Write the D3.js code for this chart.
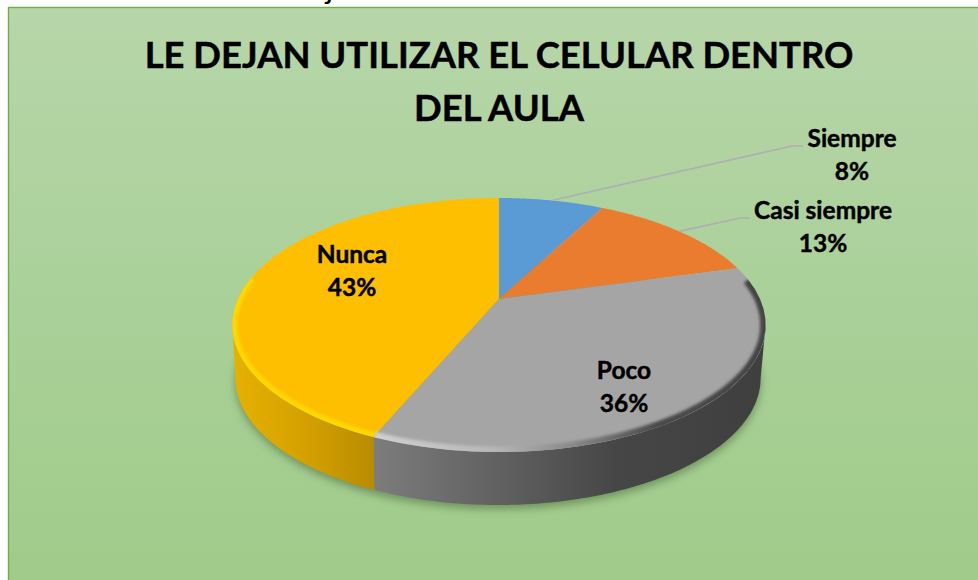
<!DOCTYPE html>
<html><head><meta charset="utf-8">
<script src="https://cdn.jsdelivr.net/npm/d3@7"></script>
<style>html,body{margin:0;padding:0;background:#fff}svg{display:block}text{font-family:Lato,"Open Sans",sans-serif;font-weight:700;fill:#000;stroke:#000;stroke-width:.45px}text.cap{stroke:none;font-weight:400}</style>
</head><body><svg id="c" width="978" height="580"></svg>
<script>
const categories = ["Siempre","Casi siempre","Poco","Nunca"];
const values = [7.7,12.9,35.5,43.4];
const colors = ["#5b9bd5","#ea7c30","#a5a5a5","#fdbf00"];
const titleLines = ["LE DEJAN UTILIZAR EL CELULAR DENTRO","DEL AULA"];
const captionText = "GRÁFICO Nº 14: Le dejan utilizar el celular dentro del aula.";

const W=978,H=580;
const apex={x:499,y:299}, A=261, B=121.7, m=0.2047, depth=53;
const svg=d3.select("#c");
const defs=svg.append("defs");
function lg(id,stops,x1,x2,y1,y2){
  const g=defs.append("linearGradient").attr("id",id).attr("gradientUnits","userSpaceOnUse")
    .attr("x1",x1).attr("x2",x2).attr("y1",y1).attr("y2",y2);
  stops.forEach(s=>g.append("stop").attr("offset",s[0]).attr("stop-color",s[1]));
}
lg("bg",[[0,"#b7d6a9"],[0.55,"#a9d098"],[1,"#a0cb8a"]],0,0,7,580);
lg("wallGray",[[0,"#7c7c7c"],[0.35,"#5e5e5e"],[0.62,"#464646"],[1,"#3f3f3f"]],375,765,0,0);
lg("wallYellow",[[0,"#e6b000"],[0.55,"#d29f00"],[1,"#b88b00"]],237,375,0,0);
lg("rimGray",[[0,"#d0d0d0"],[0.3,"#b8b8b8"],[0.5,"#8a8a8a"],[0.72,"#4a4a4a"],[1,"#444444"]],375,767,0,0);
defs.append("filter").attr("id","b1").attr("x","-10%").attr("y","-10%").attr("width","120%").attr("height","120%")
  .append("feGaussianBlur").attr("stdDeviation",1.4);
defs.append("filter").attr("id","b4").attr("x","-10%").attr("y","-10%").attr("width","120%").attr("height","130%")
  .append("feGaussianBlur").attr("stdDeviation",4);

// caption line cropped by the top of the picture
svg.append("text").attr("class","cap").attr("x",15).attr("y",-1.5).attr("font-size",31).text(captionText);

// panel
svg.append("rect").attr("x",8.5).attr("y",7.5).attr("width",W).attr("height",H).attr("fill","url(#bg)").attr("stroke","#70ad47").attr("stroke-width",1.4);

// perspective projection of the pie disc
function proj(t,dz=0){
  const X=Math.sin(t),Y=-Math.cos(t),w=1-m*Y,s=dz?0.985:1;
  return [apex.x-(dz?1:0)+s*A*X/w, apex.y+B*Y/w+dz];
}
const rad=d3.scaleLinear().domain([0,360]).range([0,2*Math.PI]);
function arcPts(a0,a1,dz=0){
  return d3.range(0,81).map(i=>proj(a0+(a1-a0)*i/80,dz));
}
const line=d3.line();
const arcs=d3.pie().sort(null).value(d=>d)(values);
const rightExt=Math.acos(-m), leftExt=2*Math.PI-rightExt;

// shadow
const g=svg.append("g");
g.append("path").attr("d",line(arcPts(0,2*Math.PI,depth+4))+"Z").attr("fill","#4d6b3c").attr("opacity",.6).attr("filter","url(#b4)");

// walls
function wall(a0,a1,fill){
  g.append("path").attr("d",line(arcPts(a0,a1).concat(arcPts(a1,a0,depth)))+"Z").attr("fill",fill);
}
wall(rightExt,arcs[2].endAngle,"url(#wallGray)");
wall(arcs[3].startAngle,leftExt,"url(#wallYellow)");

// top face
arcs.forEach((d,i)=>{
  g.append("path").attr("d",line([[apex.x,apex.y]].concat(arcPts(d.startAngle,d.endAngle)))+"Z").attr("fill",colors[i]);
});

// bevel rims
const rimClip=defs.append("clipPath").attr("id","topClip");
rimClip.append("path").attr("d",line(arcPts(0,2*Math.PI))+"Z");
const rims=g.append("g").attr("clip-path","url(#topClip)");
rims.append("path").attr("d",line(arcPts(arcs[2].startAngle+rad(6),arcs[2].endAngle))).attr("fill","none").attr("stroke","url(#rimGray)").attr("stroke-width",11).attr("filter","url(#b1)");
rims.append("path").attr("d",line(arcPts(arcs[3].startAngle,leftExt+rad(22)))).attr("fill","none").attr("stroke","#ffd800").attr("stroke-width",10).attr("filter","url(#b1)");

// leader lines start at the slice's outer edge
const leaderBends=[[[792,146],[803,146]],[[740,218],[750,218]]];
leaderBends.forEach((pts,i)=>{
  const mid=(arcs[i].startAngle+arcs[i].endAngle)/2;
  svg.append("path").attr("d",line([proj(mid)].concat(pts))).attr("fill","none").attr("stroke","#aeaeb4").attr("stroke-width",1.6);
});

// labels
const labelAt=[[852,147],[823,219],[624,379],[352,263]];
const fmt=d3.format(".0f");
categories.forEach((c,i)=>{
  const t=svg.append("text").attr("text-anchor","middle").attr("font-size",24.5);
  t.append("tspan").attr("x",labelAt[i][0]).attr("y",labelAt[i][1]).text(c);
  t.append("tspan").attr("x",labelAt[i][0]).attr("y",labelAt[i][1]+33).text(fmt(values[i])+"%");
});

// title
titleLines.forEach((s,i)=>{
  svg.append("text").attr("x",499).attr("y",68+i*53).attr("text-anchor","middle").attr("font-size",36.4).text(s);
});
</script></body></html>
